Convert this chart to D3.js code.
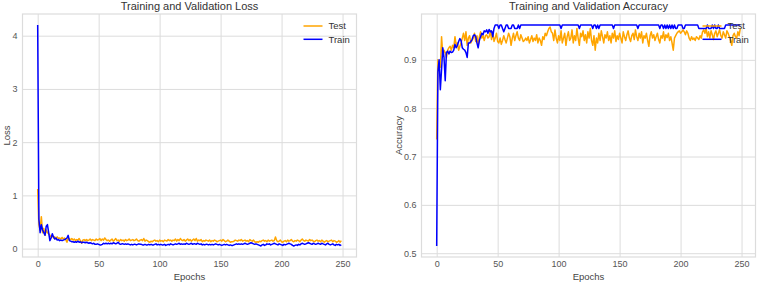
<!DOCTYPE html>
<html>
<head>
<meta charset="utf-8">
<script src="https://cdn.jsdelivr.net/npm/d3@7"></script>
<style>
  body { margin: 0; background: #fff; }
  svg { display: block; font-family: "Liberation Sans", Arial, sans-serif; }
  .tick text { fill: #555; font-size: 9px; }
  .grid line { stroke: #dcdcdc; stroke-width: 1; }
</style>
</head>
<body>
<svg id="chart" width="760" height="286"></svg>
<script>
// epoch index 0..249
const epochs = d3.range(250);

// accuracy
const trainAcc = [
  0.515, 0.875, 0.900, 0.838, 0.880, 0.925, 0.905, 0.857, 0.915, 0.918,
  0.912, 0.918, 0.915, 0.916, 0.920, 0.932, 0.925, 0.930, 0.938, 0.944,
  0.940, 0.925, 0.922, 0.920, 0.915, 0.905, 0.935, 0.935, 0.938, 0.942,
  0.950, 0.952, 0.948, 0.935, 0.925, 0.940, 0.948, 0.955, 0.952, 0.960,
  0.958, 0.962, 0.955, 0.963, 0.958, 0.960, 0.948, 0.965, 0.972, 0.972,
  0.972, 0.965, 0.972, 0.972, 0.965, 0.958, 0.965, 0.972, 0.972, 0.965,
  0.965, 0.965, 0.972, 0.972, 0.965, 0.965, 0.965, 0.972, 0.965, 0.972,
  0.972, 0.972, 0.972, 0.972, 0.972, 0.972, 0.972, 0.972, 0.972, 0.972,
  0.972, 0.972, 0.972, 0.972, 0.972, 0.972, 0.972, 0.972, 0.972, 0.972,
  0.972, 0.972, 0.972, 0.972, 0.972, 0.972, 0.972, 0.972, 0.972, 0.972,
  0.972, 0.972, 0.965, 0.972, 0.972, 0.972, 0.972, 0.972, 0.972, 0.972,
  0.972, 0.972, 0.972, 0.972, 0.972, 0.972, 0.972, 0.965, 0.972, 0.972,
  0.972, 0.972, 0.972, 0.972, 0.972, 0.972, 0.972, 0.972, 0.965, 0.972,
  0.972, 0.965, 0.972, 0.965, 0.972, 0.972, 0.972, 0.972, 0.972, 0.972,
  0.972, 0.972, 0.972, 0.972, 0.972, 0.965, 0.972, 0.972, 0.972, 0.972,
  0.972, 0.972, 0.972, 0.972, 0.972, 0.972, 0.972, 0.972, 0.972, 0.972,
  0.972, 0.972, 0.972, 0.972, 0.972, 0.965, 0.972, 0.972, 0.972, 0.972,
  0.972, 0.972, 0.972, 0.972, 0.972, 0.972, 0.972, 0.972, 0.972, 0.972,
  0.972, 0.972, 0.972, 0.965, 0.972, 0.972, 0.965, 0.972, 0.965, 0.972,
  0.965, 0.972, 0.965, 0.972, 0.965, 0.972, 0.965, 0.965, 0.972, 0.972,
  0.972, 0.972, 0.965, 0.965, 0.972, 0.972, 0.972, 0.972, 0.972, 0.972,
  0.972, 0.972, 0.972, 0.972, 0.972, 0.965, 0.965, 0.965, 0.965, 0.965,
  0.965, 0.965, 0.972, 0.965, 0.965, 0.965, 0.972, 0.965, 0.972, 0.965,
  0.965, 0.972, 0.965, 0.965, 0.965, 0.965, 0.965, 0.972, 0.972, 0.972,
  0.972, 0.972, 0.972, 0.972, 0.972, 0.972, 0.972, 0.972, 0.972, 0.972
];
const testAcc = [
  0.735, 0.900, 0.890, 0.885, 0.948, 0.910, 0.920, 0.915, 0.905, 0.920,
  0.925, 0.928, 0.920, 0.930, 0.925, 0.948, 0.930, 0.935, 0.920, 0.928,
  0.935, 0.945, 0.955, 0.940, 0.958, 0.930, 0.945, 0.950, 0.935, 0.940,
  0.945, 0.955, 0.938, 0.950, 0.930, 0.948, 0.958, 0.945, 0.950, 0.940,
  0.950, 0.952, 0.945, 0.948, 0.960, 0.942, 0.958, 0.938, 0.945, 0.955,
  0.938, 0.935, 0.945, 0.932, 0.940, 0.950, 0.942, 0.935, 0.945, 0.955,
  0.948, 0.930, 0.945, 0.955, 0.940, 0.950, 0.958, 0.945, 0.940, 0.952,
  0.945, 0.938, 0.940, 0.945, 0.940, 0.948, 0.935, 0.942, 0.950, 0.938,
  0.945, 0.940, 0.952, 0.935, 0.945, 0.940, 0.930, 0.948, 0.942, 0.955,
  0.950, 0.958, 0.965, 0.968, 0.958, 0.955, 0.940, 0.962, 0.945, 0.935,
  0.950, 0.940, 0.960, 0.935, 0.945, 0.955, 0.930, 0.948, 0.958, 0.940,
  0.945, 0.962, 0.935, 0.950, 0.940, 0.965, 0.945, 0.930, 0.955, 0.948,
  0.960, 0.940, 0.952, 0.935, 0.958, 0.945, 0.965, 0.940, 0.930, 0.950,
  0.920, 0.945, 0.935, 0.955, 0.940, 0.960, 0.948, 0.935, 0.952, 0.945,
  0.958, 0.940, 0.950, 0.935, 0.955, 0.945, 0.960, 0.938, 0.950, 0.942,
  0.955, 0.945, 0.935, 0.958, 0.948, 0.940, 0.952, 0.960, 0.945, 0.938,
  0.950, 0.955, 0.942, 0.962, 0.948, 0.940, 0.955, 0.945, 0.958, 0.935,
  0.950, 0.945, 0.955, 0.940, 0.928, 0.950, 0.958, 0.945, 0.952, 0.940,
  0.948, 0.955, 0.942, 0.935, 0.950, 0.945, 0.958, 0.940, 0.952, 0.946,
  0.955, 0.940, 0.948, 0.935, 0.920, 0.945, 0.950, 0.955, 0.958, 0.960,
  0.955, 0.958, 0.962, 0.958, 0.952, 0.960, 0.955, 0.945, 0.940, 0.948,
  0.942, 0.945, 0.940, 0.948, 0.945, 0.942, 0.950, 0.945, 0.958, 0.962,
  0.955, 0.965, 0.948, 0.958, 0.945, 0.960, 0.952, 0.942, 0.955, 0.960,
  0.948, 0.955, 0.962, 0.950, 0.945, 0.958, 0.952, 0.945, 0.960, 0.955,
  0.948, 0.940, 0.930, 0.950, 0.955, 0.948, 0.945, 0.958, 0.950, 0.965
];

// loss
const trainLoss = [
  4.20, 0.55, 0.30, 0.45, 0.35, 0.30, 0.25, 0.42, 0.45, 0.30,
  0.15, 0.20, 0.28, 0.22, 0.18, 0.20, 0.16, 0.17, 0.15, 0.16,
  0.15, 0.16, 0.17, 0.18, 0.20, 0.25, 0.15, 0.14, 0.13, 0.13,
  0.12, 0.13, 0.12, 0.14, 0.12, 0.13, 0.11, 0.12, 0.12, 0.11,
  0.12, 0.11, 0.10, 0.11, 0.10, 0.09, 0.10, 0.08, 0.08, 0.09,
  0.08, 0.07, 0.07, 0.08, 0.10, 0.09, 0.10, 0.09, 0.10, 0.09,
  0.10, 0.09, 0.11, 0.10, 0.09, 0.10, 0.12, 0.09, 0.08, 0.09,
  0.09, 0.08, 0.09, 0.08, 0.09, 0.08, 0.07, 0.08, 0.07, 0.08,
  0.08, 0.07, 0.08, 0.09, 0.08, 0.08, 0.07, 0.07, 0.08, 0.07,
  0.07, 0.08, 0.07, 0.08, 0.07, 0.07, 0.08, 0.09, 0.07, 0.08,
  0.07, 0.08, 0.07, 0.07, 0.08, 0.06, 0.07, 0.08, 0.07, 0.09,
  0.08, 0.07, 0.08, 0.09, 0.08, 0.09, 0.10, 0.08, 0.09, 0.08,
  0.09, 0.08, 0.10, 0.09, 0.08, 0.09, 0.10, 0.08, 0.09, 0.09,
  0.08, 0.10, 0.09, 0.08, 0.09, 0.07, 0.08, 0.07, 0.08, 0.08,
  0.07, 0.08, 0.07, 0.08, 0.07, 0.08, 0.09, 0.08, 0.07, 0.08,
  0.07, 0.06, 0.07, 0.08, 0.07, 0.08, 0.07, 0.06, 0.07, 0.06,
  0.06, 0.07, 0.08, 0.09, 0.08, 0.09, 0.08, 0.09, 0.08, 0.09,
  0.10, 0.09, 0.08, 0.09, 0.10, 0.11, 0.10, 0.09, 0.08, 0.09,
  0.08, 0.07, 0.06, 0.05, 0.07, 0.08, 0.06, 0.07, 0.09, 0.08,
  0.09, 0.07, 0.08, 0.09, 0.10, 0.09, 0.08, 0.07, 0.09, 0.08,
  0.07, 0.06, 0.08, 0.07, 0.08, 0.09, 0.10, 0.09, 0.08, 0.06,
  0.05, 0.06, 0.07, 0.06, 0.08, 0.07, 0.09, 0.10, 0.09, 0.08,
  0.09, 0.10, 0.11, 0.10, 0.09, 0.08, 0.10, 0.09, 0.08, 0.09,
  0.10, 0.09, 0.08, 0.10, 0.09, 0.08, 0.07, 0.09, 0.10, 0.08,
  0.07, 0.08, 0.09, 0.07, 0.06, 0.08, 0.07, 0.08, 0.06, 0.07
];
const testLoss = [
  1.12, 0.45, 0.35, 0.60, 0.30, 0.38, 0.25, 0.35, 0.30, 0.28,
  0.25, 0.22, 0.24, 0.20, 0.22, 0.18, 0.22, 0.19, 0.20, 0.18,
  0.21, 0.18, 0.20, 0.17, 0.12, 0.20, 0.18, 0.17, 0.19, 0.16,
  0.18, 0.15, 0.17, 0.16, 0.19, 0.15, 0.10, 0.16, 0.17, 0.15,
  0.17, 0.15, 0.16, 0.18, 0.15, 0.17, 0.16, 0.15, 0.18, 0.16,
  0.17, 0.19, 0.15, 0.18, 0.16, 0.20, 0.17, 0.15, 0.16, 0.14,
  0.16, 0.18, 0.14, 0.16, 0.19, 0.15, 0.16, 0.14, 0.17, 0.15,
  0.16, 0.14, 0.17, 0.15, 0.16, 0.18, 0.15, 0.16, 0.17, 0.15,
  0.16, 0.18, 0.15, 0.14, 0.16, 0.17, 0.15, 0.19, 0.14, 0.16,
  0.15, 0.13, 0.12, 0.14, 0.13, 0.15, 0.16, 0.14, 0.15, 0.13,
  0.16, 0.14, 0.15, 0.13, 0.16, 0.15, 0.14, 0.17, 0.15, 0.16,
  0.14, 0.16, 0.15, 0.18, 0.14, 0.17, 0.15, 0.19, 0.16, 0.15,
  0.17, 0.14, 0.16, 0.18, 0.15, 0.17, 0.14, 0.16, 0.18, 0.15,
  0.19, 0.14, 0.16, 0.15, 0.17, 0.13, 0.15, 0.14, 0.16, 0.15,
  0.14, 0.16, 0.13, 0.15, 0.14, 0.16, 0.15, 0.13, 0.14, 0.15,
  0.16, 0.14, 0.17, 0.15, 0.13, 0.14, 0.16, 0.14, 0.12, 0.13,
  0.13, 0.14, 0.16, 0.15, 0.14, 0.16, 0.15, 0.17, 0.14, 0.15,
  0.16, 0.14, 0.15, 0.13, 0.17, 0.15, 0.14, 0.16, 0.13, 0.12,
  0.13, 0.12, 0.14, 0.13, 0.15, 0.16, 0.14, 0.15, 0.13, 0.16,
  0.14, 0.15, 0.16, 0.14, 0.15, 0.22, 0.15, 0.13, 0.14, 0.16,
  0.13, 0.12, 0.14, 0.15, 0.13, 0.16, 0.14, 0.15, 0.17, 0.14,
  0.13, 0.15, 0.14, 0.16, 0.15, 0.13, 0.16, 0.18, 0.15, 0.14,
  0.16, 0.15, 0.14, 0.17, 0.15, 0.16, 0.14, 0.13, 0.15, 0.16,
  0.14, 0.15, 0.13, 0.16, 0.14, 0.12, 0.14, 0.15, 0.13, 0.14,
  0.15, 0.16, 0.13, 0.15, 0.14, 0.12, 0.13, 0.15, 0.12, 0.15
];

const xTicks = [0, 50, 100, 150, 200, 250];
const lossTicks = [0, 1, 2, 3, 4];
const accTicks = [0.5, 0.6, 0.7, 0.8, 0.9];
const seriesNames = ["Test", "Train"];
const seriesColors = ["orange", "blue"];

class LinePanel {
  constructor(_config, _series) {
    this.config = {
      svg: _config.svg,
      left: _config.left,
      top: 14,
      width: 334,
      height: 243,
      title: _config.title,
      yLabel: _config.yLabel,
      yLabelX: _config.yLabelX,
      yTicks: _config.yTicks,
      yFormat: _config.yFormat
    };
    this.series = _series;
    this.initVis();
  }

  initVis() {
    let vis = this;
    const c = vis.config;

    // matplotlib style 5% margins around the data
    const xMin = 0, xMax = epochs.length - 1;
    const xPad = (xMax - xMin) * 0.05;
    const allY = vis.series.flat();
    const yMin = d3.min(allY), yMax = d3.max(allY);
    const yPad = (yMax - yMin) * 0.05;

    vis.xScale = d3.scaleLinear().domain([xMin - xPad, xMax + xPad]).range([0, c.width]);
    vis.yScale = d3.scaleLinear().domain([yMin - yPad, yMax + yPad]).range([c.height, 0]);

    vis.chart = c.svg.append('g')
        .attr('transform', `translate(${c.left},${c.top})`);

    // gridlines via axes with full-length ticks
    vis.chart.append('g')
        .attr('class', 'grid')
        .attr('transform', `translate(0,${c.height})`)
        .call(d3.axisBottom(vis.xScale).tickValues(xTicks).tickSize(-c.height).tickFormat(''))
        .call(g => g.select('.domain').remove());
    vis.chart.append('g')
        .attr('class', 'grid')
        .call(d3.axisLeft(vis.yScale).tickValues(c.yTicks).tickSize(-c.width).tickFormat(''))
        .call(g => g.select('.domain').remove());

    // frame
    vis.chart.append('rect')
        .attr('width', c.width)
        .attr('height', c.height)
        .attr('fill', 'none')
        .attr('stroke', '#dcdcdc')
        .attr('stroke-width', 1.2);

    // tick labels
    vis.chart.append('g')
        .attr('transform', `translate(0,${c.height})`)
        .call(d3.axisBottom(vis.xScale).tickValues(xTicks).tickSize(0).tickPadding(4))
        .call(g => g.select('.domain').remove());
    vis.chart.append('g')
        .call(d3.axisLeft(vis.yScale).tickValues(c.yTicks).tickSize(0).tickPadding(5).tickFormat(c.yFormat))
        .call(g => g.select('.domain').remove());

    // titles
    vis.chart.append('text')
        .attr('x', c.width / 2)
        .attr('y', -4)
        .attr('text-anchor', 'middle')
        .attr('fill', '#333')
        .attr('font-size', 11)
        .text(c.title);
    vis.chart.append('text')
        .attr('x', c.width / 2)
        .attr('y', c.height + 23)
        .attr('text-anchor', 'middle')
        .attr('fill', '#444')
        .attr('font-size', 9.5)
        .text('Epochs');
    vis.chart.append('text')
        .attr('transform', `translate(${c.yLabelX},${c.height / 2}) rotate(-90)`)
        .attr('text-anchor', 'middle')
        .attr('dy', '0.35em')
        .attr('fill', '#444')
        .attr('font-size', 9.5)
        .text(c.yLabel);

    vis.renderVis();
  }

  renderVis() {
    let vis = this;
    const c = vis.config;

    const line = d3.line()
        .x((d, i) => vis.xScale(epochs[i]))
        .y(d => vis.yScale(d));

    vis.chart.selectAll('.series')
        .data(vis.series)
        .join('path')
          .attr('class', 'series')
          .attr('d', d => line(d))
          .attr('fill', 'none')
          .attr('stroke', (d, i) => seriesColors[i])
          .attr('stroke-width', 1.5)
          .attr('stroke-linejoin', 'round');

    // legend, no frame
    const legend = vis.chart.append('g')
        .attr('transform', `translate(${c.width - 53},12)`);
    seriesNames.forEach((name, i) => {
      const row = legend.append('g').attr('transform', `translate(0,${i * 13.3})`);
      row.append('line')
          .attr('x1', 0).attr('x2', 19)
          .attr('stroke', seriesColors[i])
          .attr('stroke-width', 1.5);
      row.append('text')
          .attr('x', 25)
          .attr('dy', '0.35em')
          .attr('fill', '#333')
          .attr('font-size', 9.5)
          .text(name);
    });
  }
}

const svg = d3.select('#chart');

new LinePanel({
  svg: svg, left: 22.5, title: 'Training and Validation Loss',
  yLabel: 'Loss', yLabelX: -15.5, yTicks: lossTicks, yFormat: d3.format('d')
}, [testLoss, trainLoss]);

new LinePanel({
  svg: svg, left: 421.5, title: 'Training and Validation Accuracy',
  yLabel: 'Accuracy', yLabelX: -22.5, yTicks: accTicks, yFormat: d3.format('.1f')
}, [testAcc, trainAcc]);
</script>
</body>
</html>
